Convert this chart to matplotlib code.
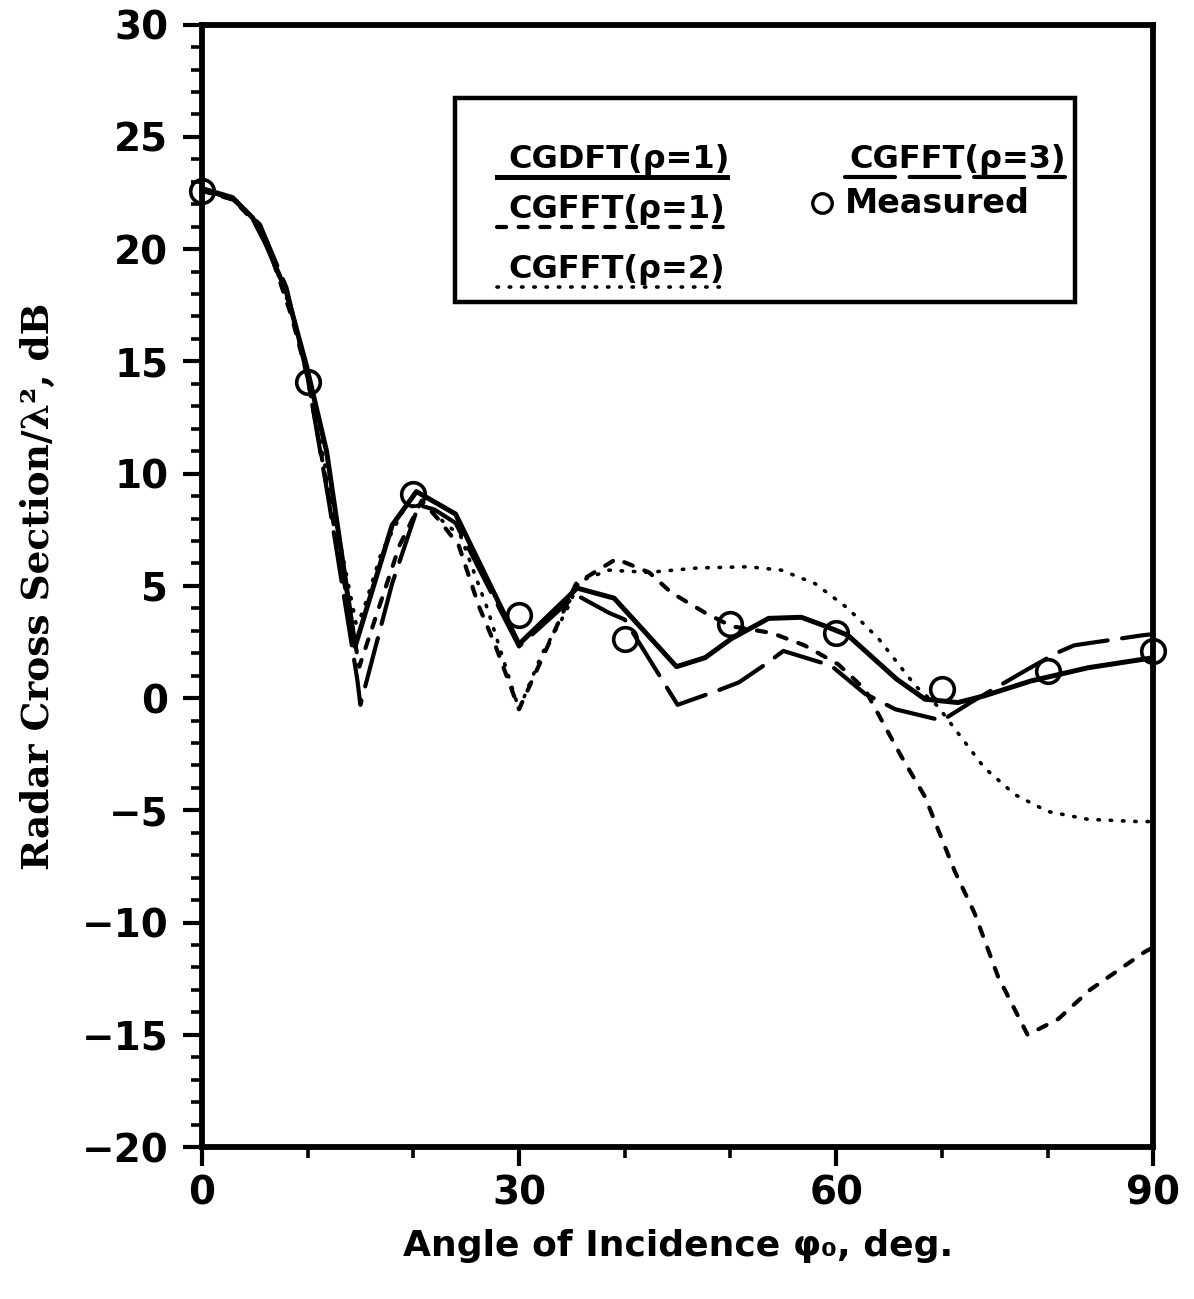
import matplotlib
matplotlib.use("Agg")
import matplotlib.pyplot as plt
from matplotlib.ticker import MultipleLocator

# CGDFT (rho=1), solid
cgdft_x = [0, 2.9, 4.8, 6.1, 8.0, 9.9, 11.8, 14.5, 18.0, 20.3, 24.0, 30.0, 35.5, 39.0,
           44.9, 47.6, 50.1, 53.6, 56.7, 59.0, 61.1, 65.7, 68.4, 71.5, 74.0, 78.4, 83.8, 90.0]
cgdft_y = [22.7, 22.3, 21.4, 20.2, 18.1, 14.8, 11.0, 2.3, 7.7, 9.2, 8.2, 2.4, 4.9, 4.45,
           1.4, 1.8, 2.65, 3.55, 3.6, 3.2, 2.8, 0.85, -0.05, -0.2, 0.1, 0.76, 1.35, 1.8]

# CGFFT (rho=1), short dashes
cgfft1_x = [0, 3, 5, 6.5, 8.5, 10, 12, 14.9, 18.7, 20.8, 22.5, 24.3, 26.2, 27.8, 30.0,
            35.4, 39.2, 42.3, 44.4, 47.6, 50.1, 53.9, 57.0, 60.2, 62.7, 64.6, 66.1, 68.4,
            71.2, 73.1, 75.3, 78.1, 81.0, 84.0, 89.2, 90.0]
cgfft1_y = [22.6, 22.2, 21.2, 19.8, 17.0, 14.3, 9.0, 1.4, 6.8, 8.8, 7.9, 6.8, 4.1, 2.3, -0.5,
            5.1, 6.2, 5.6, 4.7, 3.8, 3.2, 2.9, 2.35, 1.5, 0.4, -1.25, -2.55, -4.4,
            -7.7, -9.6, -12.4, -15.0, -14.3, -13.0, -11.3, -11.1]

# CGFFT (rho=2), dotted
cgfft2_x = [0, 3, 5, 6.5, 8.5, 10, 12, 14.6, 15.2, 17, 19, 20.5, 22, 24.5, 27, 30,
            32.2, 34.4, 35.7, 38.5, 42.3, 47, 51.7, 54.8, 58, 61.1, 64, 67.5, 69.6,
            71.2, 74, 76.9, 80, 83.8, 88.5, 90]
cgfft2_y = [22.6, 22.3, 21.3, 19.8, 17.2, 14.4, 9.5, 3.3, 3.8, 6.5, 8.3, 8.7, 8.2, 7.2, 4.0, -0.5,
            2.0, 3.8, 5.2, 5.7, 5.6, 5.8, 5.85, 5.7, 5.1, 4.0, 2.65, 0.54, -0.36,
            -1.36, -3.1, -4.3, -5.05, -5.4, -5.5, -5.5]

# CGFFT (rho=3), long dashes
cgfft3_x = [0, 3, 5.5, 8, 10, 12, 14.7, 15.0, 18.0, 20.5, 22, 24, 30, 35.4, 38.5, 40,
            45, 48.6, 50.8, 53.3, 55, 59.5, 62.7, 65.6, 70, 72.7, 77.8, 80.8, 82.5, 89, 90]
cgfft3_y = [22.7, 22.2, 21.1, 18.3, 14.3, 8.8, 0.85, -0.3, 5.1, 8.6, 8.4, 7.8, 2.3, 4.6, 3.8, 3.5,
            -0.3, 0.3, 0.7, 1.5, 2.1, 1.45, 0.2, -0.5, -1.0, -0.2, 1.2, 2.0, 2.35, 2.8, 2.85]

# Measured points
measured_x = [0, 10, 20, 30, 40, 50, 60, 70, 80, 90]
measured_y = [22.6, 14.1, 9.1, 3.7, 2.65, 3.3, 2.9, 0.4, 1.2, 2.1]

styles = {
    "solid": dict(color="black", lw=3.6, ls="-", solid_joinstyle="round"),
    "short": dict(color="black", lw=3.0, ls=(0, (2.2, 3.0)), dash_capstyle="round"),
    "dot": dict(color="black", lw=2.6, ls=(0, (0.4, 3.0)), dash_capstyle="round"),
    "long": dict(color="black", lw=3.0, ls=(0, (12, 3.5)), dash_capstyle="round"),
}

fig = plt.figure(figsize=(11.94, 12.99), dpi=100)
ax = fig.add_axes([0.169, 0.117, 0.797, 0.864])

ax.plot(cgdft_x, cgdft_y, **styles["solid"])
ax.plot(cgfft1_x, cgfft1_y, **styles["short"])
ax.plot(cgfft2_x, cgfft2_y, **styles["dot"])
ax.plot(cgfft3_x, cgfft3_y, **styles["long"])
ax.plot(measured_x, measured_y, "o", ms=17, mfc="none", mec="black", mew=2.6,
        clip_on=False, zorder=5)

ax.set_xlim(0, 90)
ax.set_ylim(-20, 30)
ax.xaxis.set_major_locator(MultipleLocator(30))
ax.xaxis.set_minor_locator(MultipleLocator(10))
ax.yaxis.set_major_locator(MultipleLocator(5))
ax.yaxis.set_minor_locator(MultipleLocator(1))

for sp in ax.spines.values():
    sp.set_linewidth(4.2)

ax.tick_params(axis="both", which="major", direction="out", length=14, width=3,
               labelsize=28)
ax.tick_params(axis="both", which="minor", direction="out", length=8, width=2.6)
ax.tick_params(axis="y", which="major", pad=10)
ax.tick_params(axis="x", which="major", pad=6)
for lab in ax.get_xticklabels() + ax.get_yticklabels():
    lab.set_fontweight("bold")

ax.set_xlabel("Angle of Incidence φ₀, deg.", fontsize=26, fontweight="heavy",
              labelpad=12)
ax.set_ylabel("Radar Cross Section/λ², dB", fontsize=27, fontweight="bold",
              family="DejaVu Serif", labelpad=18)

# legend box drawn by hand, labels underlined by their line styles
box = plt.Rectangle((0.266, 0.753), 0.652, 0.182, transform=ax.transAxes,
                    fill=False, lw=3.2, ec="black", zorder=6)
ax.add_patch(box)

entries = [
    ("CGDFT(ρ=1)", "solid", 0.322, 0.310, 0.552, 0.864),
    ("CGFFT(ρ=1)", "short", 0.322, 0.310, 0.552, 0.820),
    ("CGFFT(ρ=2)", "dot", 0.322, 0.310, 0.552, 0.766),
    ("CGFFT(ρ=3)", "long", 0.681, 0.676, 0.907, 0.864),
]
for text, key, tx, x0, x1, uy in entries:
    ax.text(tx, uy + 0.008, text, transform=ax.transAxes, fontsize=23,
            fontweight="bold", ha="left", va="baseline", zorder=7)
    ax.plot([x0, x1], [uy, uy], transform=ax.transAxes, clip_on=False, zorder=7,
            **styles[key])

ax.plot([0.652], [0.841], "o", ms=14, mfc="none", mec="black", mew=2.4,
        transform=ax.transAxes, zorder=7)
ax.text(0.676, 0.841, "Measured", transform=ax.transAxes, fontsize=24,
        fontweight="bold", ha="left", va="center", zorder=7)

fig.savefig("out.png", dpi=100)
